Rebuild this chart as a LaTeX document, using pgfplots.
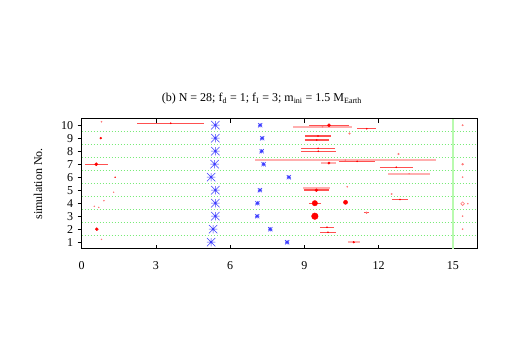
\documentclass[border=0pt]{standalone}
\usepackage{fontspec}
\setmainfont{Liberation Serif}
\usepackage{pgfplots}
\pgfplotsset{compat=1.18}
\usepackage{pgfplotstable}

\definecolor{gridgreen}{RGB}{120,235,120}
\definecolor{vgreen}{RGB}{185,250,175}
\definecolor{pinkbar}{RGB}{255,175,175}
\definecolor{pinkdot}{RGB}{255,120,120}
\definecolor{starblue}{RGB}{60,60,255}
\definecolor{gpred}{RGB}{255,80,80}

% gnuplot style asterisk: + and x on top of each other
\pgfdeclareplotmark{gpstar}{%
  \pgfpathmoveto{\pgfqpoint{-\pgfplotmarksize}{0pt}}%
  \pgfpathlineto{\pgfqpoint{\pgfplotmarksize}{0pt}}%
  \pgfpathmoveto{\pgfqpoint{0pt}{-\pgfplotmarksize}}%
  \pgfpathlineto{\pgfqpoint{0pt}{\pgfplotmarksize}}%
  \pgfpathmoveto{\pgfqpoint{-\pgfplotmarksize}{-\pgfplotmarksize}}%
  \pgfpathlineto{\pgfqpoint{\pgfplotmarksize}{\pgfplotmarksize}}%
  \pgfpathmoveto{\pgfqpoint{-\pgfplotmarksize}{\pgfplotmarksize}}%
  \pgfpathlineto{\pgfqpoint{\pgfplotmarksize}{-\pgfplotmarksize}}%
  \pgfusepathqstroke
  \pgfpathrectangle{\pgfqpoint{-0.8pt}{-0.8pt}}{\pgfqpoint{1.6pt}{1.6pt}}%
  \pgfusepathqfill}

% big blue asterisks
\pgfplotstableread{
x y
5.23 1
5.31 2
5.40 3
5.40 4
5.40 5
5.23 6
5.37 7
5.40 8
5.40 9
5.40 10
}\bigstars

% small blue asterisks
\pgfplotstableread{
x y
8.30 1
7.62 2
7.09 3
7.10 4
7.20 5
8.37 6
7.35 7
7.27 8
7.29 9
7.21 10
}\smallstars

% thin red ranges: left end, right end, y (rows of nan break the line)
\pgfplotstableread{
x y
2.25 10.15
4.95 10.15
nan nan
9.20 9.99
10.80 9.99
nan nan
11.14 9.73
11.90 9.73
nan nan
9.03 9.17
10.07 9.17
nan nan
9.01 8.86
9.99 8.86
nan nan
8.87 8.22
10.23 8.22
nan nan
8.86 8.00
10.26 8.00
nan nan
0.15 7.00
1.05 7.00
nan nan
10.39 7.22
11.87 7.22
nan nan
12.05 6.76
13.37 6.76
nan nan
8.97 5.02
10.01 5.02
nan nan
9.19 4.00
9.65 4.00
nan nan
11.42 3.27
11.60 3.27
nan nan
12.54 4.29
13.18 4.29
nan nan
9.62 2.15
10.20 2.15
nan nan
9.64 1.76
10.26 1.76
}\redlines

% centre marks of the thin ranges
\pgfplotstableread{
x y
3.60 10.15
11.52 9.73
9.55 9.17
9.50 8.86
9.55 8.22
9.56 8.00
11.13 7.22
12.71 6.76
11.51 3.27
12.86 4.29
9.91 2.15
9.95 1.76
}\redcentres

% thick pink ranges
\pgfplotstableread{
x y
8.55 9.88
10.91 9.88
nan nan
7.00 7.32
14.30 7.32
nan nan
9.66 7.09
10.28 7.09
nan nan
12.39 6.27
14.07 6.27
nan nan
8.95 5.15
10.03 5.15
nan nan
10.74 1.00
11.24 1.00
}\pinkbars

% red bodies: x, y, radius
\pgfplotstableread{
x y r
9.99 10.00 1.6
0.77 9.00 1.0
0.59 7.00 1.6
9.99 7.09 1.2
1.35 6.00 0.5
9.48 5.00 1.5
9.42 4.00 2.7
10.66 4.07 2.1
9.42 3.00 3.3
0.61 2.00 1.5
10.99 1.00 0.9
}\reddots

% light red bodies
\pgfplotstableread{
x y r
0.80 10.27 0.6
10.82 9.36 0.8
12.80 7.78 0.8
1.29 4.84 0.5
10.73 5.27 0.6
0.90 4.19 0.5
0.51 3.76 0.5
0.69 3.68 0.5
11.51 3.27 0.8
12.52 4.71 0.7
0.80 1.22 0.5
9.73 9.88 0.5
10.65 7.32 0.5
13.23 6.27 0.5
15.39 10.00 0.7
15.39 7.00 1.0
15.39 6.00 0.6
15.39 3.00 0.6
15.39 2.00 0.6
15.60 3.96 0.5
}\pinkdots

\begin{document}
\begin{tikzpicture}
\begin{axis}[
  scale only axis, width=396pt, height=130pt,
  xmin=0, xmax=16, ymin=0.5, ymax=10.5,
  xtick={0,3,...,15}, ytick={1,...,10},
  minor ytick={1.5,2.5,...,9.5}, yminorgrids,
  minor grid style={gridgreen, line width=0.8pt, dash pattern=on 1.2pt off 1.8pt},
  minor tick length=0pt,
  xtick pos=both, ytick pos=left,
  xtick align=inside, ytick align=outside,
  major tick length=4pt,
  tick style={black, line width=0.8pt},
  axis line style={line width=1pt},
  unbounded coords=jump,
  font=\fontsize{12}{14}\selectfont,
  /pgf/number format/assume math mode=true,
  xticklabel style={yshift=-9pt},
  yticklabel style={xshift=-1pt},
  ylabel={simulation No.},
  every axis y label/.style={at={(axis description cs:0,0.5)}, xshift=-43.7pt, rotate=90, anchor=center},
  title={(b) N = 28; f\textsubscript{d} = 1; f\textsubscript{I} = 3; m\textsubscript{ini} = 1.5 M\textsubscript{Earth}},
  title style={at={(axis description cs:0.455,1)}, anchor=base, yshift=11pt},
]
\addplot[vgreen, line width=2pt] coordinates {(15,0.5) (15,10.5)};

\addplot[pinkbar, line width=2pt, no marks] table[x=x, y=y] {\pinkbars};
\addplot[gpred, line width=1.3pt, no marks] table[x=x, y=y] {\redlines};
\addplot[only marks, mark=*, mark size=0.6pt, red] table[x=x, y=y] {\redcentres};

\addplot[only marks, mark=gpstar, mark size=4.2pt, starblue, line width=0.5pt]
  table[x=x, y=y] {\bigstars};
\addplot[only marks, mark=gpstar, mark size=2.1pt, starblue, line width=0.6pt]
  table[x=x, y=y] {\smallstars};

\addplot[scatter, only marks, mark=*, pinkdot,
  scatter/use mapped color={draw=pinkdot, fill=pinkdot},
  visualization depends on={\thisrow{r} \as \rr},
  scatter/@pre marker code/.append style={/tikz/mark size=\rr pt}]
  table[x=x, y=y] {\pinkdots};
\addplot[only marks, mark=o, mark size=1.8pt, pinkdot, line width=0.6pt]
  coordinates {(15.39,3.96)};

\addplot[scatter, only marks, mark=*, red,
  scatter/use mapped color={draw=red, fill=red},
  visualization depends on={\thisrow{r} \as \rr},
  scatter/@pre marker code/.append style={/tikz/mark size=\rr pt}]
  table[x=x, y=y] {\reddots};
\end{axis}
\path[use as bounding box] (-81.7pt,-105.3pt) rectangle (424.3pt,248.7pt);
\end{tikzpicture}
\end{document}
